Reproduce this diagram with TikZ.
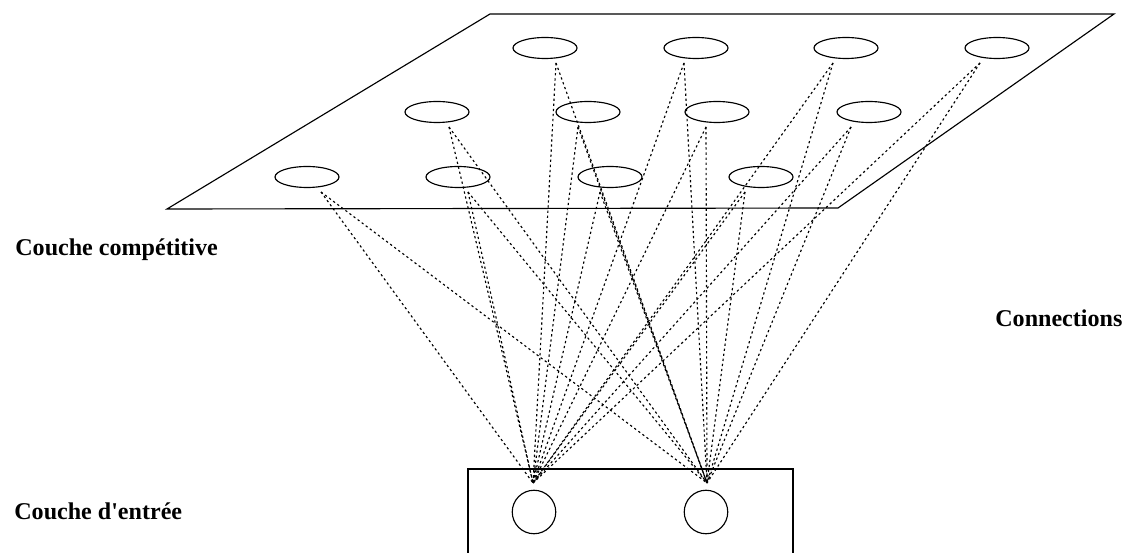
\documentclass[tikz,border=0pt]{standalone}
\usepackage{fontspec}
\setmainfont{Liberation Serif}
\usetikzlibrary{calc,shapes.geometric}

\begin{document}
\begin{tikzpicture}[
    x=0.02cm, y=-0.02cm,
    unit/.style={ellipse, draw, line width=0.65pt, minimum width=1.28cm, minimum height=0.42cm, inner sep=0pt},
    inp/.style={circle, draw, line width=0.65pt, minimum size=0.87cm, inner sep=0pt},
    link/.style={line width=0.65pt, dash pattern=on 1.3pt off 1.6pt},
    lbl/.style={font=\fontsize{13.7}{16}\selectfont\bfseries, anchor=base west, inner sep=0pt}
]
\useasboundingbox (0,0) rectangle (1128,553);
\clip (0,0) rectangle (1128,553);

% competitive layer
\draw[line width=0.65pt] (490,14) -- (1114,14) -- (838,208) -- (167,209) -- cycle;
\foreach \n/\x/\y/\d in {a/545/48/11, b/696/48/-12, c/846/48/-13, d/997/48/-17,
                         e/437/112/12, f/588/112/-10, g/717/112/-11, h/869/112/-18,
                         i/307/177/14, j/458/177/10, k/610/177/-10, l/761/177/-16}
{
    \node[unit] (u\n) at (\x,\y) {};
    \coordinate (p\n) at ($(u\n)+(\d,15)$);
}

% input layer
\draw[line width=1.1pt] (468,570) |- (793,469) -- (793,570);
\node[inp] (in1) at (534,512) {};
\node[inp] (in2) at (706,512) {};
\coordinate (c1) at (533,483);
\coordinate (c2) at (707,483);

% connections
\foreach \n in {a,...,l}
{
    \draw[link] (p\n) -- (c1);
    \draw[link] (p\n) -- (c2);
}

\node[lbl] (comp) at (15,256) {Couche compétitive};
\node[lbl] (conn) at (995,327) {Connections};
\node[lbl] (entr) at (14,519) {Couche d\textquotesingle entrée};
\end{tikzpicture}
\end{document}
